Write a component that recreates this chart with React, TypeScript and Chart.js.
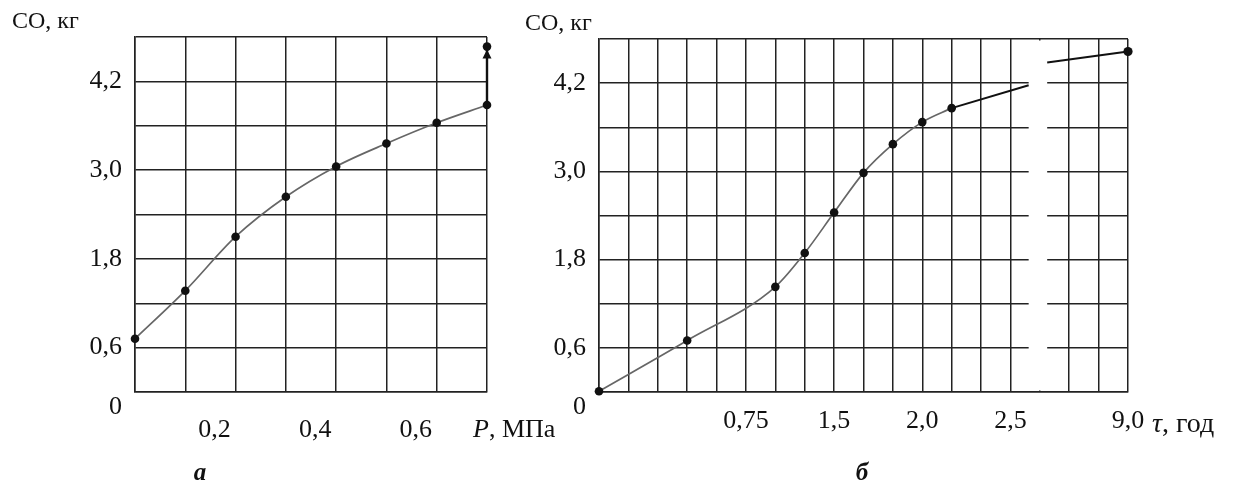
import React, { useEffect, useRef } from 'react';
import { Chart, registerables } from 'chart.js';

Chart.register(...registerables);

const FONT = "'Liberation Serif', 'Times New Roman', serif";
const GRID = '#222222';
const CURVE = '#666666';
const INK = '#111111';
const TICK_SIZE = 26;

// ---- shared y axis (CO, kg) ----
const coMin = 0;
const coMax = 4.8;
const coStep = 0.6;
const coTickValues = [0, 0.6, 1.8, 3.0, 4.2];
const coTickLabels = ['0', '0,6', '1,8', '3,0', '4,2'];

// ---- panel а: CO vs pressure ----
const pressureX = [0, 0.1, 0.2, 0.3, 0.4, 0.5, 0.6, 0.7];
const coByPressure = [0.72, 1.37, 2.1, 2.64, 3.05, 3.36, 3.64, 3.88];
const arrowX = [0.7, 0.7];
const arrowY = [3.88, 4.67];
const pressureTickValues = [0.2, 0.4, 0.6];
const pressureTickLabels = ['0,2', '0,4', '0,6'];

// ---- panel б: CO vs time (x measured in grid cells) ----
const timeCells = [0, 3, 6, 7, 8, 9, 10, 11, 12];
const coByTime = [0.01, 0.7, 1.43, 1.89, 2.44, 2.98, 3.37, 3.67, 3.86];
const extCells = [12, 14.62];
const extCo = [3.86, 4.17];
const tailCells = [15.25, 18];
const tailCo = [4.48, 4.63];
const breakCells = [14.62, 15.25];
const timeTickCells = [5, 8, 11, 14, 18];
const timeTickLabels = ['0,75', '1,5', '2,0', '2,5', '9,0'];

function pts(xs: number[], ys: number[]) {
  return xs.map((x, i) => ({ x, y: ys[i] }));
}

function labelFor(v: number, vals: number[], labels: string[]) {
  const i = vals.findIndex((t) => Math.abs(t - v) < 1e-6);
  return i >= 0 ? labels[i] : '';
}

function yAxis(width: number) {
  return {
    type: 'linear',
    min: coMin,
    max: coMax,
    afterFit: (s: any) => {
      s.width = width;
    },
    grid: { color: GRID, lineWidth: 1.5, drawTicks: false },
    border: { display: true, color: GRID, width: 1.5 },
    ticks: {
      stepSize: coStep,
      padding: 13,
      autoSkip: false,
      color: INK,
      font: { family: FONT, size: TICK_SIZE },
      callback: (v: number) => {
        const l = labelFor(v, coTickValues, coTickLabels);
        return Math.abs(v) < 1e-6 ? ['', l] : l;
      },
    },
  };
}

type TextItem = { parts: { t: string; style: string }[]; x: number; y: number; align?: 'center' | 'left'; size: number };

function textPlugin(items: TextItem[]) {
  return {
    id: 'texts',
    afterDraw(chart: any) {
      const ctx = chart.ctx;
      ctx.save();
      ctx.fillStyle = INK;
      ctx.textBaseline = 'middle';
      ctx.textAlign = 'left';
      for (const it of items) {
        let total = 0;
        for (const p of it.parts) {
          ctx.font = `${p.style} ${it.size}px ${FONT}`;
          total += ctx.measureText(p.t).width;
        }
        let x = it.align === 'center' ? it.x - total / 2 : it.x;
        for (const p of it.parts) {
          ctx.font = `${p.style} ${it.size}px ${FONT}`;
          ctx.fillText(p.t, x, it.y);
          x += ctx.measureText(p.t).width;
        }
      }
      ctx.restore();
    },
  };
}

const arrowHeadPlugin = {
  id: 'arrowHead',
  afterDatasetsDraw(chart: any) {
    const xs = chart.scales.x;
    const ys = chart.scales.y;
    const px = xs.getPixelForValue(arrowX[1]);
    const py = ys.getPixelForValue(arrowY[1]);
    const ctx = chart.ctx;
    ctx.save();
    ctx.fillStyle = INK;
    ctx.beginPath();
    ctx.moveTo(px, py + 3);
    ctx.lineTo(px - 4.5, py + 12);
    ctx.lineTo(px + 4.5, py + 12);
    ctx.closePath();
    ctx.fill();
    ctx.restore();
  },
};

const breakPlugin = {
  id: 'axisBreak',
  beforeDatasetsDraw(chart: any) {
    const xs = chart.scales.x;
    const a = chart.chartArea;
    const x0 = xs.getPixelForValue(breakCells[0]);
    const x1 = xs.getPixelForValue(breakCells[1]);
    const ctx = chart.ctx;
    ctx.save();
    ctx.fillStyle = '#ffffff';
    ctx.fillRect(x0, a.top + 1.5, x1 - x0, a.bottom - a.top - 3);
    ctx.restore();
  },
};

function makeLeft(canvas: HTMLCanvasElement) {
  return new Chart(canvas, {
    type: 'line',
    data: {
      datasets: [
        {
          data: pts(pressureX, coByPressure),
          borderColor: CURVE,
          borderWidth: 1.7,
          cubicInterpolationMode: 'monotone',
          pointRadius: 4.3,
          pointBackgroundColor: INK,
          pointBorderColor: INK,
          pointBorderWidth: 0,
          clip: false,
        },
        {
          data: pts(arrowX, arrowY),
          borderColor: INK,
          borderWidth: 2.4,
          pointRadius: [0, 4.3],
          pointBackgroundColor: INK,
          pointBorderWidth: 0,
          clip: false,
        },
      ],
    },
    options: {
      animation: false,
      responsive: false,
      devicePixelRatio: 1,
      layout: { padding: { left: 35, right: 113, top: 37, bottom: 43 } },
      plugins: { legend: { display: false }, tooltip: { enabled: false } },
      scales: {
        x: {
          type: 'linear',
          min: 0,
          max: 0.7,
          afterFit: (s: any) => {
            s.height = 50;
          },
          grid: { color: GRID, lineWidth: 1.5, drawTicks: false },
          border: { display: true, color: GRID, width: 1.5 },
          ticks: {
            stepSize: 0.1,
            padding: 23,
            labelOffset: -21,
            autoSkip: false,
            maxRotation: 0,
            color: INK,
            font: { family: FONT, size: TICK_SIZE },
            callback: (v: number) => labelFor(v, pressureTickValues, pressureTickLabels),
          },
        },
        y: yAxis(100),
      },
    } as any,
    plugins: [
      arrowHeadPlugin,
      textPlugin([
        { parts: [{ t: 'CO, кг', style: 'normal' }], x: 12, y: 22, size: 24 },
        { parts: [{ t: 'P', style: 'italic' }, { t: ', МПа', style: 'normal' }], x: 473, y: 430, size: 26 },
        { parts: [{ t: 'а', style: 'italic bold' }], x: 200, y: 474, align: 'center', size: 25 },
      ]),
    ],
  });
}

function makeRight(canvas: HTMLCanvasElement) {
  return new Chart(canvas, {
    type: 'line',
    data: {
      datasets: [
        {
          data: pts(timeCells, coByTime),
          borderColor: CURVE,
          borderWidth: 1.7,
          cubicInterpolationMode: 'monotone',
          pointRadius: 4.3,
          pointBackgroundColor: INK,
          pointBorderColor: INK,
          pointBorderWidth: 0,
          clip: false,
        },
        {
          data: pts(extCells, extCo),
          borderColor: INK,
          borderWidth: 2,
          pointRadius: 0,
        },
        {
          data: pts(tailCells, tailCo),
          borderColor: INK,
          borderWidth: 2,
          pointRadius: [0, 4.6],
          pointBackgroundColor: INK,
          pointBorderWidth: 0,
          clip: false,
        },
      ],
    },
    options: {
      animation: false,
      responsive: false,
      devicePixelRatio: 1,
      layout: { padding: { left: 9, right: 105, top: 39, bottom: 43 } },
      plugins: { legend: { display: false }, tooltip: { enabled: false } },
      scales: {
        x: {
          type: 'linear',
          min: 0,
          max: 18,
          afterFit: (s: any) => {
            s.height = 50;
          },
          grid: { color: GRID, lineWidth: 1.5, drawTicks: false },
          border: { display: true, color: GRID, width: 1.5 },
          ticks: {
            stepSize: 1,
            padding: 14,
            autoSkip: false,
            maxRotation: 0,
            color: INK,
            font: { family: FONT, size: TICK_SIZE },
            callback: (v: number) => labelFor(v, timeTickCells, timeTickLabels),
          },
        },
        y: yAxis(90),
      },
    } as any,
    plugins: [
      breakPlugin,
      textPlugin([
        { parts: [{ t: 'CO, кг', style: 'normal' }], x: 25, y: 24, size: 24 },
        { parts: [{ t: 'τ', style: 'italic' }, { t: ', год', style: 'normal' }], x: 652, y: 425, size: 28 },
        { parts: [{ t: 'б', style: 'italic bold' }], x: 362, y: 474, align: 'center', size: 25 },
      ]),
    ],
  });
}

export default function App() {
  const leftRef = useRef<HTMLCanvasElement | null>(null);
  const rightRef = useRef<HTMLCanvasElement | null>(null);

  useEffect(() => {
    const l = leftRef.current ? makeLeft(leftRef.current) : null;
    const r = rightRef.current ? makeRight(rightRef.current) : null;
    return () => {
      l?.destroy();
      r?.destroy();
    };
  }, []);

  return (
    <div style={{ position: 'fixed', left: 0, top: 0, width: 1233, height: 485, background: '#ffffff' }}>
      <canvas
        ref={leftRef}
        width={600}
        height={485}
        style={{ position: 'absolute', left: 0, top: 0, width: 600, height: 485 }}
      />
      <canvas
        ref={rightRef}
        width={733}
        height={485}
        style={{ position: 'absolute', left: 500, top: 0, width: 733, height: 485 }}
      />
    </div>
  );
}
